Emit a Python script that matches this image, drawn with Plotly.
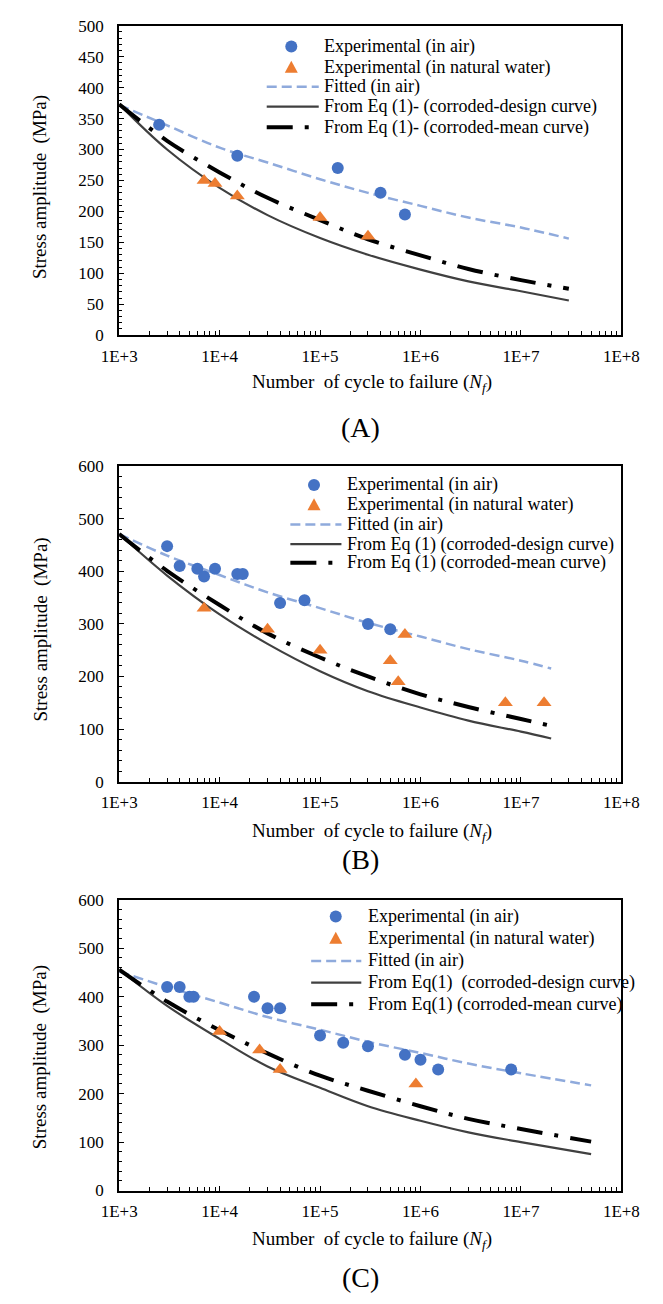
import plotly.graph_objects as go

W, H = 663, 1304
FONT = "Liberation Serif"

C_AIR = "#4472C4"
C_WATER = "#ED7D31"
C_FIT = "#8FAADC"
C_DESIGN = "#404040"
C_MEAN = "#000000"

# ---------------- Panel A ----------------
a_air_n = [2500, 15000, 150000, 400000, 700000]
a_air_s = [340, 290, 270, 230, 195]
a_wat_n = [7000, 9000, 15000, 100000, 300000]
a_wat_s = [250, 245, 225, 190, 160]
a_curve_n = [1e3, 3e3, 1e4, 3e4, 1e5, 3e5, 1e6, 3e6, 1e7, 3e7]
a_fit_s = [372, 339, 303, 279, 252, 230, 209, 190, 174, 156]
a_design_s = [373, 300, 238, 194, 157, 130, 106, 87, 71, 56]
a_mean_s = [373, 314, 263, 222, 186, 155, 129, 107, 89, 75]

# ---------------- Panel B ----------------
b_air_n = [3000, 4000, 6000, 7000, 9000, 15000, 17000, 40000, 70000, 300000, 500000]
b_air_s = [448, 410, 405, 390, 405, 395, 395, 340, 345, 300, 290]
b_wat_n = [7000, 30000, 100000, 500000, 600000, 700000, 7000000, 17000000]
b_wat_s = [330, 290, 250, 230, 190, 280, 150, 150]
b_curve_n = [1e3, 3e3, 1e4, 3e4, 1e5, 3e5, 1e6, 3e6, 1e7, 2e7]
b_fit_s = [471, 430, 393, 360, 330, 302, 276, 252, 230, 215]
b_design_s = [471, 392, 318, 262, 210, 172, 141, 116, 95, 82]
b_mean_s = [471, 401, 336, 282, 236, 200, 166, 142, 119, 106]

# ---------------- Panel C ----------------
c_air_n = [1000, 3000, 4000, 5000, 5500, 22000, 30000, 40000, 100000, 170000,
           300000, 700000, 1000000, 1500000, 8000000]
c_air_s = [420, 420, 420, 400, 400, 400, 376, 376, 320, 305, 298, 280, 270, 250, 250]
c_wat_n = [10000, 25000, 40000, 900000]
c_wat_s = [328, 290, 250, 220]
c_curve_n = [1e3, 3e3, 1e4, 3e4, 1e5, 3e5, 1e6, 3e6, 1e7, 5e7]
c_fit_s = [452, 420, 388, 358, 332, 307, 284, 262, 242, 217]
c_design_s = [456, 381, 313, 256, 212, 174, 144, 120, 100, 75]
c_mean_s = [456, 390, 331, 283, 237, 206, 174, 148, 127, 101]

# tick labels
x_tick_powers = [3, 4, 5, 6, 7, 8]
x_tick_labels = ["1E+3", "1E+4", "1E+5", "1E+6", "1E+7", "1E+8"]

legend_a = ["Experimental (in air)", "Experimental (in natural water)", "Fitted (in air)",
            "From Eq (1)- (corroded-design curve)", "From Eq (1)- (corroded-mean curve)"]
legend_b = ["Experimental (in air)", "Experimental (in natural water)", "Fitted (in air)",
            "From Eq (1) (corroded-design curve)", "From Eq (1) (corroded-mean curve)"]
legend_c = ["Experimental (in air)", "Experimental (in natural water)", "Fitted (in air)",
            "From Eq(1)  (corroded-design curve)", "From Eq(1) (corroded-mean curve)"]


def px(x):
    return x / W


def py(y):
    return 1 - y / H


panels = [
    dict(tag="A", air=(a_air_n, a_air_s), wat=(a_wat_n, a_wat_s), n=a_curve_n,
         fit=a_fit_s, design=a_design_s, mean=a_mean_s, ymax=500, dtick=50, minor=10,
         box=(107, 638, 17, 331), ytitle_y=181, xtitle_y=380, label_y=425,
         legend=legend_a, leg_x=289, leg_line=(263, 318), leg_text=321,
         leg_rows=[38, 59, 79, 99, 120]),
    dict(tag="B", air=(b_air_n, b_air_s), wat=(b_wat_n, b_wat_s), n=b_curve_n,
         fit=b_fit_s, design=b_design_s, mean=b_mean_s, ymax=600, dtick=100, minor=20,
         box=(107, 638, 464, 784), ytitle_y=630, xtitle_y=835, label_y=863,
         legend=legend_b, leg_x=313, leg_line=(288, 342), leg_text=346,
         leg_rows=[483, 503, 523, 543, 562]),
    dict(tag="C", air=(c_air_n, c_air_s), wat=(c_wat_n, c_wat_s), n=c_curve_n,
         fit=c_fit_s, design=c_design_s, mean=c_mean_s, ymax=600, dtick=100, minor=20,
         box=(107, 638, 904, 1199), ytitle_y=1064, xtitle_y=1249, label_y=1287,
         legend=legend_c, leg_x=336, leg_line=(310, 363), leg_text=368,
         leg_rows=[921, 943, 966, 988, 1010]),
]

FIT_DASH = "10px,5px"
MEAN_DASH = "26px,12px,4px,12px"

# decades carry labels; the 2..9 subdivisions are minor ticks
x_major = [10 ** p for p in x_tick_powers]
x_minor = [m * 10 ** p for p in x_tick_powers[:-1] for m in range(2, 10)]

fig = go.Figure()
annotations = []
shapes = []

for i, P in enumerate(panels):
    k = "" if i == 0 else str(i + 1)
    xa, ya = "x" + k, "y" + k
    common = dict(xaxis=xa, yaxis=ya, showlegend=False, cliponaxis=False)

    fig.add_trace(go.Scatter(x=P["n"], y=P["fit"], mode="lines",
                             line=dict(color=C_FIT, width=2.5, dash=FIT_DASH, shape="spline"),
                             **common))
    fig.add_trace(go.Scatter(x=P["n"], y=P["design"], mode="lines",
                             line=dict(color=C_DESIGN, width=2.2, shape="spline"), **common))
    fig.add_trace(go.Scatter(x=P["n"], y=P["mean"], mode="lines",
                             line=dict(color=C_MEAN, width=4, dash=MEAN_DASH, shape="spline"),
                             **common))
    fig.add_trace(go.Scatter(x=P["air"][0], y=P["air"][1], mode="markers",
                             marker=dict(symbol="circle", size=12, color=C_AIR), **common))
    fig.add_trace(go.Scatter(x=P["wat"][0], y=P["wat"][1], mode="markers",
                             marker=dict(symbol="triangle-up", size=13, color=C_WATER), **common))

    left, right, top, bottom = P["box"]
    fig.update_layout(**{
        "xaxis" + k: dict(
            domain=[px(left), px(right)], anchor=ya, type="log", range=[3, 8],
            tickmode="array", tickvals=x_major, ticktext=x_tick_labels,
            ticks="inside", ticklen=5, tickwidth=1, tickcolor="black",
            minor=dict(tickmode="array", tickvals=x_minor, ticks="inside", ticklen=4,
                       tickwidth=1, tickcolor="black"),
            showline=True, linecolor="black", linewidth=2, mirror=True,
            showgrid=False, zeroline=False,
            tickfont=dict(family=FONT, size=17, color="black"), ticklabelstandoff=4,
        ),
        "yaxis" + k: dict(
            domain=[py(bottom), py(top)], anchor=xa, range=[0, P["ymax"]],
            tick0=0, dtick=P["dtick"], ticks="inside", ticklen=5, tickwidth=1,
            tickcolor="black", showline=True, linecolor="black", linewidth=2,
            mirror=True, showgrid=False, zeroline=False,
            minor=dict(ticks="inside", dtick=P["minor"], ticklen=3, tickcolor="black",
                       tickwidth=1),
            tickfont=dict(family=FONT, size=17, color="black"), ticklabelstandoff=10,
        ),
    })

    # axis titles and panel label
    annotations.append(dict(
        text="Stress amplitude  (MPa)", x=px(24), y=py(P["ytitle_y"]), xref="paper",
        yref="paper", textangle=-90, showarrow=False, xanchor="center", yanchor="middle",
        font=dict(family=FONT, size=19, color="black")))
    annotations.append(dict(
        text="Number  of cycle to failure (<i>N<sub>f</sub></i>)", x=px(374),
        y=py(P["xtitle_y"]), xref="paper", yref="paper", showarrow=False,
        xanchor="center", yanchor="middle", font=dict(family=FONT, size=19, color="black")))
    annotations.append(dict(
        text="(" + P["tag"] + ")", x=px(362), y=py(P["label_y"]), xref="paper",
        yref="paper", showarrow=False, xanchor="center", yanchor="middle",
        font=dict(family=FONT, size=28, color="black")))

    # legend block
    rows = P["leg_rows"]
    mx = px(P["leg_x"])
    shapes.append(dict(type="circle", xref="paper", yref="paper", xsizemode="pixel",
                       ysizemode="pixel", xanchor=mx, yanchor=py(rows[0]),
                       x0=-6, x1=6, y0=-6, y1=6, fillcolor=C_AIR, line=dict(width=0)))
    shapes.append(dict(type="path", xref="paper", yref="paper", xsizemode="pixel",
                       ysizemode="pixel", xanchor=mx, yanchor=py(rows[1]),
                       path="M -6.5,-5.5 L 6.5,-5.5 L 0,6.5 Z", fillcolor=C_WATER,
                       line=dict(width=0)))
    l0, l1 = P["leg_line"]
    for r, (col, wdt, dsh) in zip(rows[2:], [(C_FIT, 2.5, FIT_DASH),
                                             (C_DESIGN, 2.2, "solid"),
                                             (C_MEAN, 4, MEAN_DASH)]):
        shapes.append(dict(type="line", xref="paper", yref="paper", x0=px(l0), x1=px(l1),
                           y0=py(r), y1=py(r), line=dict(color=col, width=wdt, dash=dsh)))
    for r, txt in zip(rows, P["legend"]):
        annotations.append(dict(text=txt, x=px(P["leg_text"]), y=py(r), xref="paper",
                                yref="paper", showarrow=False, xanchor="left",
                                yanchor="middle",
                                font=dict(family=FONT, size=18, color="black")))

fig.update_layout(
    width=W, height=H, margin=dict(l=0, r=0, t=0, b=0),
    paper_bgcolor="white", plot_bgcolor="white",
    font=dict(family=FONT, color="black"),
    annotations=annotations, shapes=shapes, showlegend=False,
)

fig.write_html("out.html")
